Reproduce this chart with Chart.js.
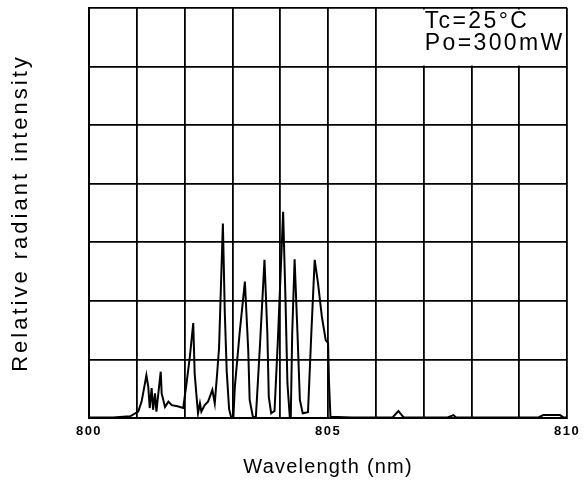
<!DOCTYPE html>
<html>
<head>
<meta charset="utf-8">
<script src="https://cdn.jsdelivr.net/npm/chart.js@4.4.0/dist/chart.umd.min.js"></script>
<style>
  html, body { margin: 0; padding: 0; background: #fff; }
  #wrap { width: 584px; height: 495px; position: relative; }
</style>
</head>
<body>
<div id="wrap"><canvas id="c" width="584" height="495"></canvas></div>
<script>
// Wavelength (nm) sample positions
const wavelength = [800.0, 800.5, 800.86, 801.03, 801.10, 801.17, 801.20, 801.24, 801.27, 801.31, 801.34, 801.38, 801.41, 801.45, 801.50, 801.52, 801.59, 801.66, 801.73, 801.85, 801.97, 802.04, 802.11, 802.18, 802.21, 802.25, 802.28, 802.32, 802.35, 802.42, 802.49, 802.58, 802.63, 802.68, 802.72, 802.75, 802.80, 802.84, 802.88, 802.93, 802.97, 803.02, 803.05, 803.15, 803.26, 803.33, 803.36, 803.43, 803.49, 803.57, 803.67, 803.73, 803.76, 803.81, 803.88, 803.95, 804.06, 804.11, 804.15, 804.20, 804.22, 804.25, 804.30, 804.36, 804.41, 804.47, 804.58, 804.65, 804.72, 804.79, 804.87, 804.95, 805.00, 805.02, 805.05, 805.5, 806.0, 806.35, 806.47, 806.58, 807.0, 807.5, 807.62, 807.68, 808.5, 809.4, 809.5, 809.85, 809.92, 810.0];
// Relative radiant intensity (grid units)
const intensity = [0.01, 0.01, 0.03, 0.11, 0.28, 0.59, 0.73, 0.53, 0.17, 0.51, 0.14, 0.42, 0.11, 0.42, 0.79, 0.42, 0.19, 0.28, 0.22, 0.20, 0.17, 0.59, 1.05, 1.62, 0.76, 0.36, 0.08, 0.25, 0.11, 0.22, 0.28, 0.48, 0.25, 0.76, 1.20, 2.00, 3.32, 1.80, 0.80, 0.15, 0.02, 0.02, 0.53, 1.45, 2.33, 1.16, 0.31, 0.01, 0.02, 1.16, 2.70, 1.45, 0.36, 0.08, 0.12, 1.33, 3.52, 2.00, 0.59, 0.01, 0.02, 1.45, 2.71, 1.45, 0.31, 0.08, 0.10, 1.45, 2.70, 2.30, 1.73, 1.33, 1.28, 0.60, 0.02, 0.01, 0.01, 0.01, 0.12, 0.01, 0.01, 0.01, 0.05, 0.01, 0.01, 0.01, 0.05, 0.05, 0.01, 0.01];
// Tick labels shown on the x axis
const xTickLabels = ['800', '805', '810'];
// Condition notes
const notes = ['Tc=25°C', 'Po=300mW'];
const xTitle = 'Wavelength (nm)';
const yTitle = 'Relative radiant intensity';

const points = wavelength.map((w, i) => ({ x: w, y: intensity[i] }));

function spaced(scale, fn, ls) {
  const key = '_ls_' + fn;
  if (scale[key]) return;
  const orig = scale[fn].bind(scale);
  scale[fn] = function (...args) {
    const ctx = scale.ctx;
    ctx.save();
    ctx.letterSpacing = ls;
    orig(...args);
    ctx.restore();
  };
  scale[key] = true;
}

const notePlugin = {
  id: 'notes',
  beforeDraw(chart) {
    spaced(chart.scales.x, 'drawLabels', '1.5px');
    spaced(chart.scales.x, 'drawTitle', '1.2px');
    spaced(chart.scales.y, 'drawTitle', '3px');
  },
  beforeDatasetsDraw(chart) {
    const ctx = chart.ctx;
    const a = chart.chartArea;
    const xs = chart.scales.x, ys = chart.scales.y;
    ctx.save();
    ctx.fillStyle = '#fff';
    const left = xs.getPixelForValue(806.4);
    ctx.fillRect(left, a.top + 1.5, a.right - 1.5 - left, ys.getPixelForValue(6) - a.top - 2.5);
    ctx.fillStyle = '#000';
    ctx.font = '23px "Liberation Sans", Arial, sans-serif';
    ctx.letterSpacing = '2.4px';
    ctx.textBaseline = 'alphabetic';
    ctx.textAlign = 'left';
    const tx = xs.getPixelForValue(807.0) + 1;
    ctx.fillText(notes[0], tx, a.top + 20);
    ctx.fillText(notes[1], tx, a.top + 42);
    ctx.restore();
  }
};

new Chart(document.getElementById('c'), {
  type: 'line',
  data: {
    datasets: [{
      data: points,
      borderColor: '#000',
      borderWidth: 2,
      pointRadius: 0,
      tension: 0,
      fill: false
    }]
  },
  options: {
    responsive: false,
    animation: false,
    layout: { padding: { left: 0, right: 16, top: 8, bottom: 0 } },
    plugins: { legend: { display: false }, tooltip: { enabled: false } },
    scales: {
      x: {
        type: 'linear',
        min: 800,
        max: 810,
        afterFit(scale) { scale.height = 77; },
        ticks: {
          stepSize: 1,
          autoSkip: false,
          maxRotation: 0,
          padding: 6,
          color: '#000',
          font: { family: '"Liberation Sans", Arial, sans-serif', size: 13, weight: 'bold' },
          callback: (v) => xTickLabels.includes(String(v)) ? String(v) : ''
        },
        grid: { color: '#000', lineWidth: 1.8, drawTicks: false },
        border: { color: '#000', width: 2 },
        title: {
          display: true,
          text: xTitle,
          color: '#000',
          font: { family: '"Liberation Sans", Arial, sans-serif', size: 20 },
          padding: { top: 0, bottom: 16 }
        }
      },
      y: {
        min: 0,
        max: 7,
        afterFit(scale) { scale.width = 89; },
        ticks: { display: false, stepSize: 1 },
        grid: { color: '#000', lineWidth: 1.8, drawTicks: false },
        border: { color: '#000', width: 2 },
        title: {
          display: true,
          text: yTitle,
          color: '#000',
          font: { family: '"Liberation Sans", Arial, sans-serif', size: 22 },
          padding: { top: 8, bottom: 0 }
        }
      }
    }
  },
  plugins: [notePlugin]
});
</script>
</body>
</html>
